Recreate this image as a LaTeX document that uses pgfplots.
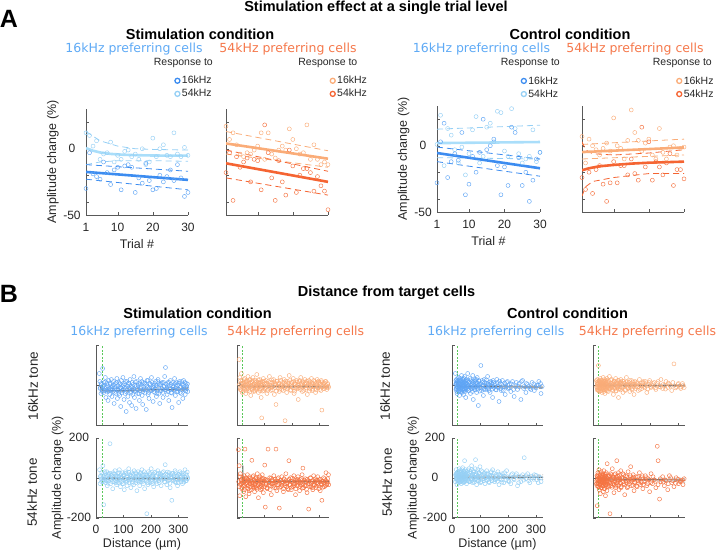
\documentclass[border=0pt]{standalone}
\usepackage{fontspec}
\setmainfont{Liberation Sans}
\newfontfamily\verd{DejaVu Sans}
\usepackage{pgfplots}
\pgfplotsset{compat=1.18}
\definecolor{cDB}{RGB}{60,140,240}
\definecolor{cDBm}{RGB}{95,165,245}
\definecolor{cLB}{RGB}{150,208,245}
\definecolor{cLBl}{RGB}{170,222,250}
\definecolor{cLO}{RGB}{250,172,120}
\definecolor{cDO}{RGB}{245,100,50}
\definecolor{cDOm}{RGB}{245,115,65}
\definecolor{tB}{RGB}{95,170,245}
\definecolor{tO}{RGB}{245,120,75}
\definecolor{fitg}{RGB}{115,115,115}
\definecolor{grn}{RGB}{90,200,90}
\pgfplotsset{
 base/.style={scale only axis, axis lines*=left, axis line style={-,black!65}, tick style={black!65}, tick align=inside, major tick length=2.5pt,
   ticklabel style={font=\fontsize{12}{14}\selectfont, text=black!85}, label style={font=\fontsize{12.5}{15}\selectfont, text=black!85}},
 pA/.style={base, height=106pt, xmin=1, xmax=30, ymin=-50, ymax=30, xtick={1,10,20,30}, ytick={-50,-40,-20,0,20}, xticklabels={}, yticklabels={}},
 pAl/.style={xticklabels={1,10,20,30}, yticklabels={-50,,,0,}, xlabel={Trial \#}, ylabel={Amplitude change (\%)},
   xticklabel style={anchor=center, yshift=-12.5pt}, yticklabel style={anchor=center, xshift=-14pt},
   xlabel style={at={(axis description cs:0.5,-0.27)}, anchor=center},
   ylabel style={at={(axis description cs:-0.325,0.5)}, anchor=center}},
 pB/.style={base, width=92pt, height=80pt, ymin=-200, ymax=200, xtick={0,100,200,300}, ytick={-200,0,200}, xticklabels={}, yticklabels={}},
 pBl/.style={xticklabels={0,100,200,300}, yticklabels={-200,0,200}, xlabel={Distance (µm)}, ylabel={Amplitude change (\%)},
   xticklabel style={anchor=center, yshift=-11.6pt}, yticklabel style={anchor=center, xshift=-17pt},
   xlabel style={at={(axis description cs:0.5,-0.33)}, anchor=center},
   ylabel style={at={(axis description cs:-0.418,0.5)}, anchor=center}},
 sc/.style={only marks, mark=o, mark size=2pt, line width=0.45pt, forget plot},
 fitA/.style={no markers, line width=2.6pt, forget plot},
 ciA/.style={no markers, line width=0.8pt, dash pattern=on 6pt off 4pt, forget plot},
 fitB/.style={no markers, line width=1.1pt, fitg, forget plot},
 ciB/.style={no markers, line width=0.5pt, fitg, dash pattern=on 3pt off 2pt, forget plot},
 grnl/.style={no markers, line width=0.6pt, grn, dash pattern=on 2pt off 1.5pt, forget plot},
 legA/.style={legend style={draw=none, fill=none, anchor=north west, font=\fontsize{10.5}{12}\selectfont, text=black!85, legend cell align=left, inner sep=0pt, row sep=0pt}},
 lim/.style={only marks, mark=o, mark size=2.5pt, line width=1.3pt, legend image code/.code={\draw[##1] plot coordinates {(0pt,0pt)};}},
}
\begin{document}
\begin{tikzpicture}[x=1pt,y=1pt]
\useasboundingbox (0,0) rectangle (717,551);
% ---------------- Panel A ----------------
\begin{axis}[pA, pAl, width=102pt, at={(86pt,442pt)}, anchor=north west, legA, legend style={at={(0.87,1.33)}}]
\addplot[sc, cLB] coordinates {(1,12)(2,10)(3,2)(4,6)(5,-8)(6,-4)(7,-3)(8,5)(9,-10)(10,-5)(11,-8)(12,-2)(13,-1)(14,-6)(15,-4)(16,-8)(17,0)(18,-12)(19,-10)(20,8)(21,-6)(22,0)(23,3)(24,-5)(25,-6)(26,12)(27,-4)(28,-6)(29,1)(30,-5)};
\addplot[sc, cDBm] coordinates {(1,-30)(2,-3)(3,-19)(4,-21)(5,-23)(6,-10)(7,-18)(8,-27)(9,-16)(10,-14)(11,-31)(12,-13)(13,-12)(14,-14)(15,-33)(16,-22)(17,-26)(18,-11)(19,-24)(20,-31)(21,-30)(22,-20)(23,-25)(24,-21)(25,-16)(26,-24)(27,-12)(28,-22)(29,-36)(30,-33)};
\addplot[ciA, cLB] coordinates {(1,13)(5,6)(10,2)(15,0)(20,-0.5)(30,-1)};
\addplot[ciA, cLB] coordinates {(1,-12)(5,-10)(10,-9)(20,-9)(30,-9.5)};
\addplot[ciA, cDB] coordinates {(1,-12)(30,-17)};
\addplot[ciA, cDB] coordinates {(1,-23)(30,-31)};
\addplot[fitA, cLBl] coordinates {(1,0.5)(3,-1.5)(5,-2.8)(8,-3.9)(12,-4.6)(16,-4.9)(20,-5.1)(25,-5.2)(30,-5.2)};
\addplot[fitA, cDB] coordinates {(1,-17.5)(30,-23.5)};
\addlegendimage{lim, cDB}\addlegendentry{16kHz}
\addlegendimage{lim, cLB}\addlegendentry{54kHz}
\end{axis}
\begin{axis}[pA, width=102pt, at={(226pt,442pt)}, anchor=north west, legA, legend style={at={(1.02,1.33)}}]
\addplot[sc, cLO] coordinates {(1,17)(2,7)(3,12)(4,3)(5,-4)(6,-6)(7,-3)(8,-4)(9,-1)(10,2)(11,12)(12,-8)(13,12)(14,-4)(15,-7)(16,-1)(17,2)(18,-1)(19,15)(20,7)(21,0)(22,-4)(23,-3)(24,18)(25,-8)(26,3)(27,-8)(28,-12)(29,-10)(30,-12)};
\addplot[sc, cDOm] coordinates {(1,-18)(2,-3)(3,-39)(4,-6)(5,-14)(6,-10)(7,-7)(8,-25)(9,-8)(10,-9)(11,-31)(12,18)(13,-3)(14,-22)(15,-39)(16,-9)(17,-25)(18,-35)(19,-1)(20,-13)(21,-33)(22,-20)(23,-15)(24,-15)(25,-18)(26,-32)(27,-21)(28,-28)(29,-32)(30,-46)};
\addplot[ciA, cLO] coordinates {(1,13)(30,-1.5)};
\addplot[ciA, cLO] coordinates {(1,-4)(30,-14)};
\addplot[ciA, cDO] coordinates {(1,-1)(30,-17)};
\addplot[ciA, cDO] coordinates {(1,-22)(30,-35)};
\addplot[fitA, cLO] coordinates {(1,4)(30,-7.5)};
\addplot[fitA, cDO] coordinates {(1,-11)(30,-25)};
\addlegendimage{lim, cLO}\addlegendentry{16kHz}
\addlegendimage{lim, cDO}\addlegendentry{54kHz}
\end{axis}
\begin{axis}[pA, pAl, width=103pt, at={(437pt,445pt)}, anchor=north west, legA, legend style={at={(0.817,1.30)}}]
\addplot[sc, cLB] coordinates {(1,1)(2,23)(3,-15)(4,13)(5,8)(6,-3)(7,-13)(8,-1)(9,-22)(10,-6)(11,12)(12,22)(13,-13)(14,-8)(15,14)(16,17)(17,3)(18,26)(19,25)(20,-4)(21,-8)(22,28)(23,13)(24,-6)(25,-13)(26,-10)(27,-8)(28,12)(29,-12)(30,-5)};
\addplot[sc, cDBm] coordinates {(1,-28)(2,3)(3,17)(4,-24)(5,-12)(6,-6)(7,-11)(8,10)(9,-37)(10,-29)(11,-8)(12,-20)(13,-5)(14,20)(15,-3)(16,0)(17,5)(18,-15)(19,-37)(20,-16)(21,-30)(22,14)(23,10)(24,-9)(25,-30)(26,-20)(27,-42)(28,-26)(29,-10)(30,-5)};
\addplot[ciA, cLB] coordinates {(1,12.5)(30,15.5)};
\addplot[ciA, cLB] coordinates {(1,-9)(30,-10)};
\addplot[ciA, cDB] coordinates {(1,-1)(30,-10)};
\addplot[ciA, cDB] coordinates {(1,-12)(30,-23)};
\addplot[fitA, cLBl] coordinates {(1,2)(30,2.8)};
\addplot[fitA, cDB] coordinates {(1,-5.5)(30,-17)};
\addlegendimage{lim, cDB}\addlegendentry{16kHz}
\addlegendimage{lim, cLB}\addlegendentry{54kHz}
\end{axis}
\begin{axis}[pA, width=102pt, at={(582pt,445pt)}, anchor=north west, legA, legend style={at={(0.927,1.30)}}]
\addplot[sc, cLO] coordinates {(1,7)(2,-13)(3,5)(4,0)(5,-3)(6,-7)(7,-2)(8,2)(9,-4)(10,21)(11,0)(12,-2)(13,-10)(14,4)(15,27)(16,10)(17,4)(18,-4)(19,2)(20,5)(21,-7)(22,-10)(23,13)(24,-5)(25,-10)(26,-1)(27,0)(28,-7)(29,-2)(30,-1)};
\addplot[sc, cDOm] coordinates {(1,-24)(2,-33)(3,-20)(4,-36)(5,-18)(6,-15)(7,-29)(8,-42)(9,-28)(10,-12)(11,-28)(12,-15)(13,-15)(14,-22)(15,-10)(16,-21)(17,-26)(18,14)(19,-16)(20,3)(21,-26)(22,-12)(23,-16)(24,-22)(25,-13)(26,-6)(27,-30)(28,-18)(29,-18)(30,-25)};
\addplot[ciA, cLO] coordinates {(1,1)(30,5)};
\addplot[ciA, cLO] coordinates {(1,-10)(30,-7)};
\addplot[ciA, cDO] coordinates {(1,3)(2,-3)(4,-6)(10,-7)(20,-5.5)(30,-3)};
\addplot[ciA, cDO] coordinates {(1,-38)(2,-31)(4,-27)(10,-24)(20,-21)(30,-21)};
\addplot[fitA, cLO] coordinates {(1,-4.8)(30,-1.3)};
\addplot[fitA, cDO] coordinates {(1,-18.5)(3,-17)(6,-15.5)(10,-14.5)(15,-13.5)(20,-12.8)(30,-12)};
\addlegendimage{lim, cLO}\addlegendentry{16kHz}
\addlegendimage{lim, cDO}\addlegendentry{54kHz}
\end{axis}
% ---------------- Panel B ----------------
\begin{axis}[pB, xmin=0, xmax=335, at={(96pt,205.5pt)}, anchor=north west]
\addplot[sc, cDBm] coordinates {(12,60)(14,20)(16,-10)(18,-40)(20,5)(22,-20)(24,85)(26,-5)(28,-35)(30,15)(32,-25)(34,40)(36,-60)(38,-10)(40,10)(42,-30)(44,-75)(46,25)(48,-15)(50,-45)(52,5)(54,-20)(56,30)(58,-55)(60,-5)(62,-30)(64,20)(66,-90)(68,-15)(70,10)(72,-40)(74,-20)(76,35)(78,-65)(80,0)(82,-25)(84,15)(86,-50)(88,-10)(90,-105)(92,25)(94,-35)(96,-5)(98,40)(100,-20)(102,-70)(104,10)(106,-40)(108,-15)(110,-130)(112,20)(114,-25)(116,-55)(118,5)(120,-10)(122,-85)(124,30)(126,-30)(128,-5)(130,-100)(132,15)(134,-45)(136,-20)(138,45)(140,-60)(142,0)(144,-30)(146,-115)(148,20)(150,-15)(152,-40)(155,10)(158,-75)(160,-25)(162,35)(165,-5)(168,-50)(170,-95)(172,15)(175,-20)(178,-35)(180,5)(183,-120)(186,25)(188,-10)(190,-45)(193,-65)(196,10)(199,-25)(202,40)(205,-15)(208,-80)(211,0)(214,-35)(217,20)(220,-55)(223,-10)(226,30)(229,-40)(232,-90)(235,5)(238,-25)(241,15)(244,-60)(247,-5)(250,45)(253,90)(256,-20)(259,-45)(262,10)(265,-75)(268,-15)(271,25)(274,-35)(277,-110)(280,0)(283,-20)(286,35)(289,-50)(292,-5)(295,15)(298,-30)(301,-85)(304,20)(307,-10)(310,-40)(313,5)(316,-65)(319,25)(322,-20)(325,-45)(328,10)(331,-15)(334,-30)};
\addplot[sc, cDBm] coordinates {(15,-15)(19,10)(23,-30)(27,0)(31,-12)(35,18)(39,-22)(43,-2)(47,-28)(51,12)(55,-8)(59,-20)(63,3)(67,-35)(71,-5)(75,15)(79,-18)(83,-40)(87,8)(91,-12)(95,-25)(99,2)(103,-8)(107,20)(111,-32)(115,-3)(119,12)(123,-15)(127,-38)(131,-10)(135,5)(139,-28)(143,18)(147,-5)(151,-20)(154,0)(157,-42)(161,8)(164,-15)(167,20)(171,-30)(174,-8)(177,12)(181,-22)(185,-2)(189,25)(192,-35)(195,-12)(198,5)(201,-25)(204,15)(207,-8)(210,-30)(213,10)(216,-18)(219,0)(222,-40)(225,20)(228,-10)(231,5)(234,-28)(237,12)(240,-15)(243,-35)(246,15)(249,-5)(252,-22)(255,8)(258,-12)(261,-30)(264,18)(267,-2)(270,-20)(273,5)(276,-38)(279,15)(282,-8)(285,-25)(288,10)(291,-15)(294,-30)(297,3)(300,-18)(303,12)(306,-35)(309,-5)(312,20)(315,-22)(318,0)(321,-12)(324,15)(327,-28)(330,-3)(333,8)};
\addplot[grnl] coordinates {(22,-200)(22,200)};
\addplot[ciB] coordinates {(20,-17)(335,-10)};
\addplot[ciB] coordinates {(20,-33)(335,-24)};
\addplot[fitB] coordinates {(12,5)(20,-22)(30,-27)(335,-17)};
\end{axis}
\begin{axis}[pB, pBl, xmin=0, xmax=335, at={(96pt,113.3pt)}, anchor=north west]
\addplot[sc, cLB] coordinates {(13,40)(15,-30)(17,10)(19,-5)(21,25)(23,-15)(25,60)(27,-20)(28,-135)(29,5)(31,-10)(33,20)(35,-25)(37,0)(39,30)(41,-40)(43,10)(45,-15)(47,15)(49,-5)(51,170)(53,-30)(55,20)(57,-10)(59,5)(61,-55)(63,25)(65,-20)(67,0)(69,35)(71,-15)(73,10)(75,-35)(77,-5)(79,20)(81,-25)(83,5)(85,40)(87,-10)(89,-45)(91,15)(93,-20)(95,0)(97,25)(99,-30)(101,10)(103,-60)(105,-5)(107,30)(109,-15)(111,5)(113,-40)(115,20)(117,-10)(119,45)(121,-25)(123,0)(125,15)(127,-50)(129,-5)(131,25)(133,-20)(135,10)(137,-35)(139,35)(141,-10)(143,5)(145,-25)(147,20)(149,-65)(151,0)(153,30)(155,-15)(157,10)(159,-40)(161,-5)(163,25)(165,-20)(167,40)(169,-10)(171,5)(173,-30)(175,15)(177,-55)(179,0)(181,20)(183,-15)(185,-180)(187,10)(189,-35)(191,30)(193,-5)(195,15)(197,-25)(199,0)(201,45)(204,-20)(207,10)(210,-45)(213,25)(216,-10)(219,5)(222,-30)(225,35)(228,-15)(231,0)(234,20)(237,-40)(240,10)(243,-5)(246,30)(249,-20)(252,65)(255,0)(258,-35)(261,15)(264,-10)(267,25)(270,-50)(273,5)(276,-113)(279,20)(282,-15)(285,0)(288,35)(291,-25)(294,10)(297,-40)(300,15)(303,-5)(306,30)(309,-20)(312,5)(315,-30)(318,20)(321,-10)(324,40)(327,-15)(330,10)(333,-5)};
\addplot[sc, cLB] coordinates {(16,5)(20,-20)(24,15)(28,-8)(32,30)(36,-15)(40,8)(44,-28)(48,22)(52,-3)(56,12)(60,-20)(64,0)(68,18)(72,-25)(76,8)(80,-8)(84,25)(88,-18)(92,3)(96,-30)(100,15)(104,-10)(108,22)(112,-22)(116,5)(120,28)(124,-12)(128,8)(132,-28)(136,18)(140,-3)(144,25)(148,-15)(152,10)(156,-22)(160,20)(164,-5)(168,15)(172,-18)(176,30)(180,-8)(184,12)(188,-25)(192,3)(196,22)(200,-12)(203,8)(206,-30)(209,18)(212,-3)(215,28)(218,-18)(221,10)(224,-8)(227,22)(230,-25)(233,5)(236,15)(239,-12)(242,25)(245,-3)(248,10)(251,-22)(254,18)(257,-8)(260,28)(263,-15)(266,5)(269,-28)(272,15)(275,0)(278,22)(281,-10)(284,12)(287,-20)(290,25)(293,-5)(296,8)(299,-25)(302,18)(305,-12)(308,5)(311,22)(314,-8)(317,12)(320,-22)(323,3)(326,20)(329,-15)(332,28)(334,0)};
\addplot[grnl] coordinates {(22,-200)(22,200)};
\addplot[ciB] coordinates {(22,2)(335,0)};
\addplot[ciB] coordinates {(22,-9)(335,-11)};
\addplot[fitB] coordinates {(22,-3)(335,-5)};
\end{axis}
\begin{axis}[pB, xmin=0, xmax=335, at={(237pt,205.5pt)}, anchor=north west]
\addplot[sc, cLO] coordinates {(8,130)(10,40)(12,-20)(14,10)(16,60)(18,-5)(20,25)(22,-30)(24,15)(26,-10)(28,35)(30,0)(32,-40)(34,20)(36,-15)(38,5)(40,45)(42,-25)(44,10)(46,-5)(48,30)(50,-50)(52,0)(54,20)(56,-15)(58,40)(60,-30)(62,10)(64,-5)(66,25)(68,-20)(70,5)(72,55)(74,-10)(76,15)(78,-35)(80,0)(82,30)(84,-15)(86,10)(88,-60)(90,-162)(92,20)(94,-5)(96,35)(98,-25)(100,10)(103,-10)(106,25)(109,-40)(112,5)(115,-15)(118,45)(121,0)(124,-25)(127,15)(130,-5)(133,30)(136,-45)(139,10)(142,-95)(145,20)(148,-10)(151,5)(154,-30)(157,40)(160,0)(163,-20)(166,15)(169,-5)(172,30)(175,-176)(178,10)(181,-35)(184,20)(187,-10)(190,50)(193,0)(196,-25)(199,15)(202,-5)(205,35)(208,-40)(211,10)(214,-15)(217,25)(220,0)(223,-70)(226,20)(229,-10)(232,40)(235,5)(238,-30)(241,15)(244,-5)(247,30)(250,-20)(253,10)(256,-45)(259,0)(262,25)(265,-15)(268,5)(271,35)(274,-25)(277,10)(280,-5)(283,20)(286,-35)(289,0)(292,30)(295,-10)(298,15)(301,-20)(304,5)(307,25)(309,-123)(312,-5)(315,10)(318,-15)(321,20)(324,0)(327,-10)(330,5)(333,-5)};
\addplot[sc, cLO] coordinates {(9,5)(11,-12)(13,25)(15,-22)(17,8)(19,-35)(21,12)(23,-5)(25,30)(27,-18)(29,3)(31,18)(33,-25)(35,10)(37,-8)(39,22)(41,-15)(43,0)(45,28)(47,-30)(49,12)(51,-5)(53,18)(55,-22)(57,3)(59,25)(61,-12)(63,8)(65,-28)(67,15)(69,-3)(71,20)(73,-18)(75,5)(77,28)(79,-8)(81,12)(83,-25)(85,18)(87,0)(89,-15)(91,8)(93,-28)(95,15)(97,-5)(99,22)(102,-18)(105,5)(108,12)(111,-25)(114,20)(117,-8)(120,15)(123,-12)(126,28)(129,-22)(132,3)(135,18)(138,-10)(141,8)(144,-28)(147,22)(150,-3)(153,12)(156,-18)(159,25)(162,-8)(165,5)(168,-25)(171,15)(174,-12)(177,22)(180,0)(183,-18)(186,10)(189,-5)(192,25)(195,-22)(198,3)(201,15)(204,-12)(207,20)(210,-28)(213,8)(216,-5)(219,18)(222,-15)(225,3)(228,25)(231,-20)(234,12)(237,-8)(240,20)(243,-25)(246,8)(249,15)(252,-12)(255,22)(258,-3)(261,10)(264,-28)(267,18)(270,-8)(273,12)(276,-18)(279,25)(282,-3)(285,8)(288,-22)(291,15)(294,-12)(297,22)(300,-5)(303,10)(306,-25)(309,18)(312,0)(315,-15)(318,12)(321,-8)(324,20)(327,-20)(330,10)(333,-10)};
\addplot[grnl] coordinates {(21,-200)(21,200)};
\addplot[ciB] coordinates {(20,2)(335,-2)};
\addplot[ciB] coordinates {(20,-9)(335,-12)};
\addplot[fitB] coordinates {(8,13)(20,-3)(335,-7)};
\end{axis}
\begin{axis}[pB, xmin=0, xmax=335, at={(237pt,113.3pt)}, anchor=north west]
\addplot[sc, cDOm] coordinates {(5,140)(8,60)(10,-90)(12,20)(14,-30)(16,-10)(18,-50)(20,0)(22,-25)(24,-70)(26,10)(28,-40)(29,143)(30,-15)(32,-95)(34,-5)(36,-35)(38,15)(40,-55)(42,-20)(44,-80)(46,5)(48,-30)(50,-10)(52,-60)(54,87)(56,-25)(58,-45)(60,10)(62,-15)(64,-70)(66,-35)(68,0)(70,-50)(72,-20)(74,20)(76,-40)(78,-100)(80,-10)(82,-30)(84,5)(86,-60)(88,-20)(90,-45)(92,15)(94,-25)(96,-75)(98,-5)(101,63)(103,-147)(105,-35)(107,-15)(110,-55)(113,143)(116,-25)(119,0)(122,-40)(125,-85)(128,-10)(131,-30)(134,10)(137,-50)(140,-20)(142,143)(145,-65)(148,-5)(151,-35)(154,-152)(157,-15)(160,-45)(163,5)(166,-25)(169,-70)(172,-10)(175,-40)(178,20)(181,-30)(184,-55)(187,-15)(189,85)(192,-35)(195,0)(198,-60)(201,-20)(204,-45)(207,10)(210,-30)(213,-85)(216,-15)(219,-40)(222,5)(225,-25)(228,-65)(231,-10)(234,-35)(237,15)(240,48)(243,-50)(246,-20)(249,-5)(252,-40)(255,-75)(258,-15)(261,-157)(264,-30)(267,0)(270,-45)(273,-20)(276,-60)(279,10)(282,-35)(285,-15)(288,-50)(291,-25)(294,5)(297,-40)(300,-10)(303,-65)(306,-30)(309,-113)(312,-20)(315,0)(318,-45)(321,-15)(324,25)(327,-35)(330,-5)(333,15)};
\addplot[sc, cDOm] coordinates {(6,-20)(9,-45)(11,5)(13,-35)(15,-15)(17,-55)(19,-25)(21,-5)(23,-40)(25,-20)(27,-60)(29,-10)(31,-30)(33,0)(35,-50)(37,-25)(39,-8)(41,-40)(43,-15)(45,-65)(47,-28)(49,-2)(51,-45)(53,-18)(55,-35)(57,5)(59,-25)(61,-52)(63,-12)(65,-30)(67,-45)(69,-5)(71,-22)(73,-58)(75,-15)(77,-35)(79,0)(81,-28)(83,-48)(85,-10)(87,-38)(89,-20)(91,-55)(93,-5)(95,-32)(97,-18)(100,-45)(103,-8)(106,-28)(109,-50)(112,-12)(115,-38)(118,-22)(121,-60)(124,-2)(127,-30)(130,-15)(133,-42)(136,-25)(139,-8)(142,-52)(145,-18)(148,-35)(151,0)(154,-28)(157,-48)(160,-12)(163,-38)(166,-20)(169,-55)(172,-5)(175,-30)(178,-15)(181,-45)(184,-25)(187,-60)(190,-8)(193,-35)(196,-18)(199,-48)(202,-2)(205,-28)(208,-40)(211,-12)(214,-55)(217,-22)(220,-8)(223,-38)(226,-15)(229,-45)(232,-25)(235,-5)(238,-52)(241,-30)(244,-12)(247,-40)(250,-22)(253,-58)(256,-8)(259,-32)(262,-18)(265,-45)(268,-2)(271,-28)(274,-50)(277,-15)(280,-38)(283,-22)(286,-5)(289,-42)(292,-12)(295,-30)(298,-55)(301,-20)(304,-8)(307,-35)(310,-18)(313,-48)(316,-25)(319,-5)(322,-40)(325,-15)(328,-30)(331,-22)(334,-35)};
\addplot[grnl] coordinates {(21,-200)(21,200)};
\addplot[ciB] coordinates {(22,-12)(335,-14)};
\addplot[ciB] coordinates {(22,-24)(335,-26)};
\addplot[fitB] coordinates {(21,60)(22,-15)(60,-18)(335,-20)};
\end{axis}
\begin{axis}[pB, width=91pt, xmin=0, xmax=325, at={(452pt,205.5pt)}, anchor=north west]
\addplot[sc, cDBm] coordinates {(12,60)(14,-20)(15,10)(16,30)(17,-5)(18,-40)(19,15)(20,-10)(21,25)(22,0)(23,-30)(24,40)(25,-15)(26,5)(27,-50)(28,20)(29,-5)(30,35)(31,-25)(32,10)(33,-10)(34,50)(35,0)(36,-35)(37,15)(38,-20)(39,5)(40,30)(41,-45)(42,-5)(43,20)(44,-15)(45,45)(46,0)(47,-30)(48,10)(49,-60)(50,25)(52,-10)(54,5)(56,60)(58,-25)(60,15)(62,-5)(64,35)(66,-40)(68,0)(70,20)(72,-15)(74,50)(76,-70)(78,10)(80,-20)(82,30)(84,-5)(86,15)(88,-35)(90,40)(92,0)(94,-100)(96,25)(98,-10)(100,5)(103,100)(106,-25)(109,15)(112,-50)(115,30)(118,0)(121,-20)(124,10)(127,45)(130,-15)(133,5)(136,-35)(139,20)(142,-5)(145,-60)(148,15)(152,0)(156,-20)(160,30)(164,-10)(168,-80)(172,10)(176,-25)(180,25)(185,-5)(190,-45)(195,15)(200,-15)(205,5)(210,-30)(216,20)(222,-55)(228,0)(234,-20)(240,10)(246,-70)(252,25)(258,-5)(264,-35)(270,5)(278,-15)(286,15)(294,-25)(302,0)(310,20)(318,-40)(322,-5)};
\addplot[sc, cDBm] coordinates {(13,5)(14,25)(15,-15)(16,12)(17,-30)(18,20)(19,-8)(20,35)(21,-20)(22,10)(23,15)(24,-12)(25,28)(26,-25)(27,5)(28,-5)(29,22)(30,-18)(31,8)(32,-32)(33,25)(34,-10)(35,15)(36,5)(37,-22)(38,30)(39,-15)(40,0)(41,12)(42,-28)(43,35)(44,3)(45,-18)(46,15)(47,22)(48,-12)(49,8)(50,-22)(51,30)(52,12)(53,-5)(55,-18)(57,25)(59,0)(61,-25)(63,18)(65,-8)(67,28)(69,-15)(71,8)(73,-30)(75,15)(77,0)(79,-12)(81,22)(83,-22)(85,5)(87,30)(89,-8)(91,12)(93,-18)(95,3)(97,22)(99,-28)(102,10)(105,-12)(108,25)(111,0)(114,-20)(117,15)(120,-5)(123,28)(126,-15)(129,8)(132,-25)(135,18)(138,-3)(141,12)(144,-18)(147,25)(150,-10)(154,10)(158,-22)(162,15)(166,-5)(170,22)(174,-15)(178,5)(183,-25)(188,12)(193,-8)(198,20)(204,-12)(212,8)(220,-20)(230,15)(238,-5)(248,20)(256,-15)(266,10)(274,-5)(282,-20)(292,8)(300,-12)(308,3)(316,10)};
\addplot[grnl] coordinates {(19,-200)(19,200)};
\addplot[ciB] coordinates {(25,0)(325,-2)};
\addplot[ciB] coordinates {(25,-11)(325,-14)};
\addplot[fitB] coordinates {(14,21)(25,-5)(325,-8)};
\end{axis}
\begin{axis}[pB, pBl, width=91pt, xmin=0, xmax=325, at={(452pt,113.3pt)}, anchor=north west, ylabel style={at={(axis description cs:-0.425,0.5)}}]
\addplot[sc, cLB] coordinates {(12,-20)(14,10)(15,40)(16,-5)(17,20)(18,-35)(19,0)(20,15)(21,-15)(22,30)(23,5)(24,-25)(25,10)(26,45)(27,-10)(28,0)(29,25)(30,-20)(31,5)(32,35)(33,-30)(34,15)(35,-5)(36,20)(37,-15)(38,50)(39,0)(40,10)(41,-25)(42,30)(43,-5)(44,15)(45,85)(46,-20)(47,5)(48,40)(49,-10)(50,20)(52,-30)(54,0)(56,25)(58,-15)(60,45)(62,5)(64,-20)(66,30)(68,-5)(70,60)(72,10)(74,-25)(76,35)(78,0)(80,15)(82,-10)(84,90)(86,20)(88,-35)(90,5)(92,40)(94,-15)(96,25)(98,0)(100,55)(103,-20)(106,10)(109,30)(112,-5)(115,20)(118,-30)(121,0)(124,35)(127,-10)(130,15)(133,-25)(136,5)(139,25)(142,-15)(145,40)(148,0)(152,-20)(156,15)(160,-5)(164,30)(168,-35)(172,10)(176,-10)(180,20)(185,-25)(190,5)(195,35)(200,-15)(205,0)(210,-30)(216,20)(222,-10)(228,10)(234,-40)(240,5)(246,-20)(252,15)(258,100)(264,-5)(270,20)(278,-25)(286,0)(294,15)(302,-10)(310,5)(318,-20)};
\addplot[sc, cLB] coordinates {(13,15)(14,-5)(15,20)(16,8)(17,-15)(18,25)(19,-10)(20,5)(21,30)(22,-18)(23,12)(24,0)(25,22)(26,-12)(27,35)(28,8)(29,-22)(30,15)(31,-5)(32,10)(33,28)(34,-15)(35,18)(36,0)(37,40)(38,-10)(39,22)(40,-20)(41,12)(42,5)(43,30)(44,-8)(45,15)(46,25)(47,-15)(48,8)(49,32)(50,-5)(51,18)(53,12)(55,-12)(57,35)(59,5)(61,-20)(63,22)(65,10)(67,-8)(69,40)(71,-15)(73,18)(75,0)(77,28)(79,-22)(81,12)(83,45)(85,-5)(87,15)(89,-12)(91,30)(93,5)(95,-18)(97,20)(99,8)(102,-25)(105,35)(108,-8)(111,15)(114,-15)(117,25)(120,0)(123,-12)(126,20)(129,5)(132,-20)(135,12)(138,-5)(141,30)(144,-15)(147,8)(150,22)(154,-10)(158,5)(162,-18)(166,18)(170,-5)(174,12)(178,-22)(183,8)(188,25)(193,-12)(198,5)(204,-20)(212,15)(220,-5)(230,20)(238,-25)(248,5)(256,-12)(266,10)(274,-15)(282,8)(292,-8)(300,12)(308,-25)(316,0)};
\addplot[grnl] coordinates {(19,-200)(19,200)};
\addplot[ciB] coordinates {(19,9)(200,8)(325,14)};
\addplot[ciB] coordinates {(19,-3)(200,-4)(325,-9)};
\addplot[fitB] coordinates {(19,3)(325,2)};
\end{axis}
\begin{axis}[pB, xmin=0, xmax=325, at={(593pt,205.5pt)}, anchor=north west]
\addplot[sc, cLO] coordinates {(12,25)(14,-10)(15,5)(16,30)(17,-20)(18,10)(19,100)(20,-5)(21,20)(22,-30)(23,0)(24,15)(25,-15)(26,35)(27,5)(28,-25)(29,10)(30,-5)(31,25)(32,-35)(33,0)(34,15)(35,-10)(36,40)(37,5)(38,-20)(39,20)(40,-5)(41,30)(42,-40)(43,10)(44,-15)(45,0)(46,25)(47,-25)(48,5)(49,35)(50,-10)(52,15)(54,-30)(56,0)(58,45)(60,-15)(62,10)(64,-5)(66,30)(68,-20)(70,5)(72,-45)(74,20)(76,-10)(78,0)(80,35)(82,-25)(84,10)(86,-5)(88,25)(90,-60)(92,0)(94,15)(96,-15)(98,30)(100,-5)(103,10)(106,-35)(109,20)(112,0)(115,-20)(118,40)(121,5)(124,-10)(127,15)(130,-30)(133,0)(136,25)(139,-15)(142,5)(145,-45)(148,20)(152,-5)(156,10)(160,-25)(164,30)(168,0)(172,-15)(176,15)(180,-5)(185,20)(190,-35)(195,5)(200,25)(205,-10)(210,0)(216,15)(222,-20)(228,10)(234,-5)(240,30)(246,-15)(252,0)(258,20)(264,-10)(270,5)(278,-25)(286,108)(294,-5)(302,10)(310,-15)(318,0)(322,-10)};
\addplot[sc, cLO] coordinates {(13,-5)(14,15)(15,-22)(16,8)(17,20)(18,-12)(19,-25)(20,12)(21,-8)(22,25)(23,-18)(24,5)(25,20)(26,-10)(27,-28)(28,15)(29,-2)(30,28)(31,-15)(32,8)(33,-20)(34,-5)(35,22)(36,-12)(37,12)(38,-30)(39,5)(40,18)(41,-8)(42,22)(43,-22)(44,10)(45,-12)(46,5)(47,15)(48,-18)(49,-3)(50,25)(51,-25)(53,8)(55,-10)(57,20)(59,-18)(61,3)(63,28)(65,-12)(67,12)(69,-25)(71,15)(73,-5)(75,22)(77,-15)(79,8)(81,-28)(83,18)(85,-8)(87,12)(89,-18)(91,25)(93,-5)(95,8)(97,-22)(99,15)(102,-12)(105,22)(108,-5)(111,12)(114,-25)(117,5)(120,18)(123,-15)(126,0)(129,25)(132,-10)(135,10)(138,-22)(141,18)(144,-5)(147,8)(150,-15)(154,15)(158,-8)(162,5)(166,-20)(170,12)(174,-3)(178,20)(183,-12)(188,8)(193,-18)(198,15)(204,-5)(212,10)(220,-12)(230,20)(238,-8)(248,5)(256,-18)(266,12)(274,-3)(282,15)(292,-12)(300,5)(308,-8)(316,10)};
\addplot[grnl] coordinates {(19,-200)(19,200)};
\addplot[ciB] coordinates {(19,8)(325,6)};
\addplot[ciB] coordinates {(19,-4)(325,-6)};
\addplot[fitB] coordinates {(19,2)(325,0)};
\end{axis}
\begin{axis}[pB, xmin=0, xmax=325, at={(593pt,113.3pt)}, anchor=north west]
\addplot[sc, cDOm] coordinates {(12,-30)(14,10)(15,-140)(16,-10)(17,25)(18,-45)(19,0)(20,-20)(21,40)(22,-60)(23,-5)(24,15)(25,-35)(26,-80)(27,5)(28,-15)(29,30)(30,-50)(31,-25)(32,10)(33,-10)(34,-40)(35,20)(36,-70)(37,-5)(38,35)(39,-30)(40,0)(41,-55)(42,15)(43,-20)(44,-90)(45,5)(46,-35)(47,25)(48,-15)(49,-65)(50,70)(52,-5)(54,-45)(56,10)(58,-25)(60,-180)(62,20)(64,-40)(66,-10)(68,45)(70,-30)(72,0)(74,-75)(76,15)(78,-20)(80,-50)(82,5)(84,85)(86,-35)(88,-10)(90,25)(92,-60)(94,0)(96,-25)(98,35)(100,-45)(103,-5)(106,20)(109,-30)(112,-85)(115,10)(118,-15)(121,-50)(124,30)(127,-20)(130,0)(133,55)(136,-40)(139,-10)(142,15)(145,-65)(148,-25)(152,5)(156,-45)(160,-15)(164,25)(168,-35)(172,0)(176,-55)(180,-20)(185,10)(190,-40)(195,-5)(200,-70)(205,20)(210,-30)(216,-10)(222,-50)(227,157)(230,85)(235,-107)(240,-20)(246,5)(252,-40)(258,-15)(264,-60)(270,10)(278,-25)(286,-45)(294,0)(302,-30)(310,-15)(318,-35)(322,-5)};
\addplot[sc, cDOm] coordinates {(13,-15)(14,-40)(15,5)(16,-25)(17,-8)(18,15)(19,-30)(20,-12)(21,-45)(22,0)(23,-20)(24,-35)(25,10)(26,-15)(27,-28)(28,-50)(29,-5)(30,20)(31,-38)(32,-18)(33,5)(34,-25)(35,-8)(36,-42)(37,12)(38,-15)(39,-30)(40,-55)(41,0)(42,-22)(43,8)(44,-35)(45,-12)(46,18)(47,-45)(48,-25)(49,-2)(50,-18)(51,-32)(53,5)(55,-20)(57,-40)(59,10)(61,-12)(63,-28)(65,15)(67,-48)(69,-8)(71,-22)(73,3)(75,-35)(77,-15)(79,20)(81,-42)(83,-5)(85,-25)(87,8)(89,-18)(91,-38)(93,12)(95,-10)(97,-28)(99,-50)(102,0)(105,-20)(108,15)(111,-35)(114,-8)(117,-25)(120,5)(123,-45)(126,-12)(129,-30)(132,10)(135,-18)(138,-5)(141,-38)(144,3)(147,-22)(150,-12)(154,-42)(158,5)(162,-28)(166,-8)(170,-20)(174,10)(178,-35)(183,-15)(188,0)(193,-30)(198,-10)(204,-25)(212,5)(220,-18)(230,-35)(238,-5)(248,-22)(256,-12)(266,-30)(274,0)(282,-15)(292,-28)(300,-8)(308,-20)(316,-12)};
\addplot[grnl] coordinates {(19,-200)(19,200)};
\addplot[ciB] coordinates {(19,1)(200,-3)(325,-2)};
\addplot[ciB] coordinates {(19,-13)(200,-15)(325,-22)};
\addplot[fitB] coordinates {(19,-6)(325,-12)};
\end{axis}
% ---------------- Texts ----------------
\node[font=\fontsize{25}{28}\selectfont\bfseries] at (9,532) {A};
\node[font=\fontsize{25}{28}\selectfont\bfseries] at (9,257.5) {B};
\node[font=\fontsize{14.5}{17}\selectfont\bfseries] at (376,543) {Stimulation effect at a single trial level};
\node[font=\fontsize{14.5}{17}\selectfont\bfseries] at (386.5,258) {Distance from target cells};
\node[font=\fontsize{14.5}{17}\selectfont\bfseries] at (200,517) {Stimulation condition};
\node[font=\fontsize{14.5}{17}\selectfont\bfseries] at (570,517) {Control condition};
\node[font=\fontsize{14.5}{17}\selectfont\bfseries] at (197.5,238) {Stimulation condition};
\node[font=\fontsize{14.5}{17}\selectfont\bfseries] at (567.5,238) {Control condition};
\node[font=\verd\fontsize{12.5}{15}\selectfont, text=tB] at (134,502) {16kHz preferring cells};
\node[font=\verd\fontsize{12.5}{15}\selectfont, text=tO] at (288,502) {54kHz preferring cells};
\node[font=\verd\fontsize{12.5}{15}\selectfont, text=tB] at (481.5,502) {16kHz preferring cells};
\node[font=\verd\fontsize{12.5}{15}\selectfont, text=tO] at (635,502) {54kHz preferring cells};
\node[font=\verd\fontsize{12.5}{15}\selectfont, text=tB] at (139,219.3) {16kHz preferring cells};
\node[font=\verd\fontsize{12.5}{15}\selectfont, text=tO] at (295.7,219.3) {54kHz preferring cells};
\node[font=\verd\fontsize{12.5}{15}\selectfont, text=tB] at (495.8,219.3) {16kHz preferring cells};
\node[font=\verd\fontsize{12.5}{15}\selectfont, text=tO] at (647.5,219.3) {54kHz preferring cells};
\node[font=\fontsize{10.5}{12}\selectfont, text=black!85, anchor=east, inner sep=0pt] at (213,488) {Response to};
\node[font=\fontsize{10.5}{12}\selectfont, text=black!85, anchor=east, inner sep=0pt] at (357.5,488) {Response to};
\node[font=\fontsize{10.5}{12}\selectfont, text=black!85, anchor=east, inner sep=0pt] at (560,488) {Response to};
\node[font=\fontsize{10.5}{12}\selectfont, text=black!85, anchor=east, inner sep=0pt] at (712,488) {Response to};
\node[font=\fontsize{13.5}{16}\selectfont, text=black!85, rotate=90] at (33,165) {16kHz tone};
\node[font=\fontsize{13.5}{16}\selectfont, text=black!85, rotate=90] at (32,58.5) {54kHz tone};
\node[font=\fontsize{13.5}{16}\selectfont, text=black!85, rotate=90] at (385,165) {16kHz tone};
\node[font=\fontsize{13.5}{16}\selectfont, text=black!85, rotate=90] at (387,68.5) {54kHz tone};
\end{tikzpicture}
\end{document}
